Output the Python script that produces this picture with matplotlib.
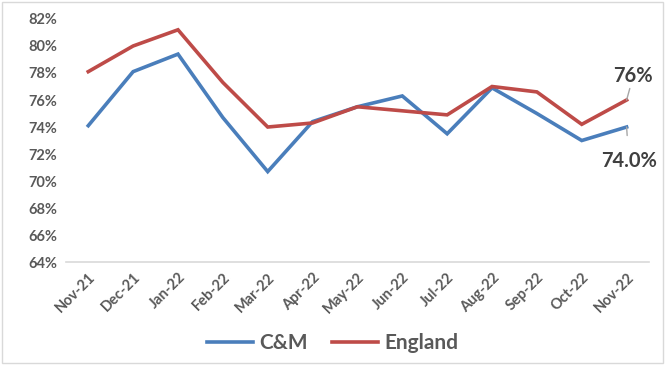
import matplotlib.pyplot as plt
from matplotlib.patches import Rectangle

plt.rcParams['font.family'] = ['Lato', 'DejaVu Sans']

months = ["Nov-21", "Dec-21", "Jan-22", "Feb-22", "Mar-22", "Apr-22", "May-22",
          "Jun-22", "Jul-22", "Aug-22", "Sep-22", "Oct-22", "Nov-22"]
cm = [74.1, 78.1, 79.4, 74.7, 70.7, 74.4, 75.5, 76.3, 73.5, 76.9, 75.0, 73.0, 74.0]
england = [78.1, 80.0, 81.2, 77.3, 74.0, 74.3, 75.5, 75.2, 74.9, 77.0, 76.6, 74.2, 76.0]

grey = "#595959"
blue = "#4a7ebb"
red = "#be4b48"

fig = plt.figure(figsize=(6.65, 3.65), dpi=100)
ax = fig.add_axes([0.099, 0.282, 0.877, 0.666])

x = range(len(months))
ax.plot(x, cm, color=blue, lw=2.6, label="C&M", solid_joinstyle="miter")
ax.plot(x, england, color=red, lw=2.6, label="England", solid_joinstyle="miter")

ax.set_xlim(-0.5, len(months) - 0.5)
ax.set_ylim(64, 82)
ax.set_yticks(range(64, 83, 2))
ax.set_yticklabels([f"{v}%" for v in range(64, 83, 2)])
ax.set_xticks(list(x))
ax.set_xticklabels(months, rotation=45, ha="right", rotation_mode="anchor")
ax.tick_params(length=0, labelsize=10.5, labelcolor=grey, pad=6)
for lab in ax.get_xticklabels() + ax.get_yticklabels():
    lab.set_fontweight("bold")

for s in ["top", "right", "left"]:
    ax.spines[s].set_visible(False)
ax.spines["bottom"].set_color("#d9d9d9")
ax.spines["bottom"].set_linewidth(1.2)

# end-point labels with short leader lines
last = len(months) - 1
ax.annotate(f"{england[-1]:.0f}%", xy=(last, england[-1]), xytext=(last + 0.15, england[-1] + 1.8),
            ha="center", va="center", fontsize=14.5, fontweight="bold", color="#404040",
            arrowprops=dict(arrowstyle="-", color="#a6a6a6", lw=1, shrinkA=9, shrinkB=0))
ax.annotate(f"{cm[-1]:.1f}%", xy=(last, cm[-1]), xytext=(last + 0.05, cm[-1] - 2.5),
            ha="center", va="center", fontsize=14.5, fontweight="bold", color="#404040",
            arrowprops=dict(arrowstyle="-", color="#a6a6a6", lw=1, shrinkA=9, shrinkB=0))

leg = fig.legend(loc="center", bbox_to_anchor=(0.5, 0.06), ncol=2, frameon=False,
                 handlelength=2.2, handletextpad=0.3, columnspacing=1.2,
                 prop={"size": 15, "weight": "bold"})
for t in leg.get_texts():
    t.set_color(grey)

fig.patches.append(Rectangle((0.003, 0.005), 0.994, 0.99, transform=fig.transFigure,
                             fill=False, edgecolor="#d9d9d9", lw=1))

fig.savefig("out.png", dpi=100)
